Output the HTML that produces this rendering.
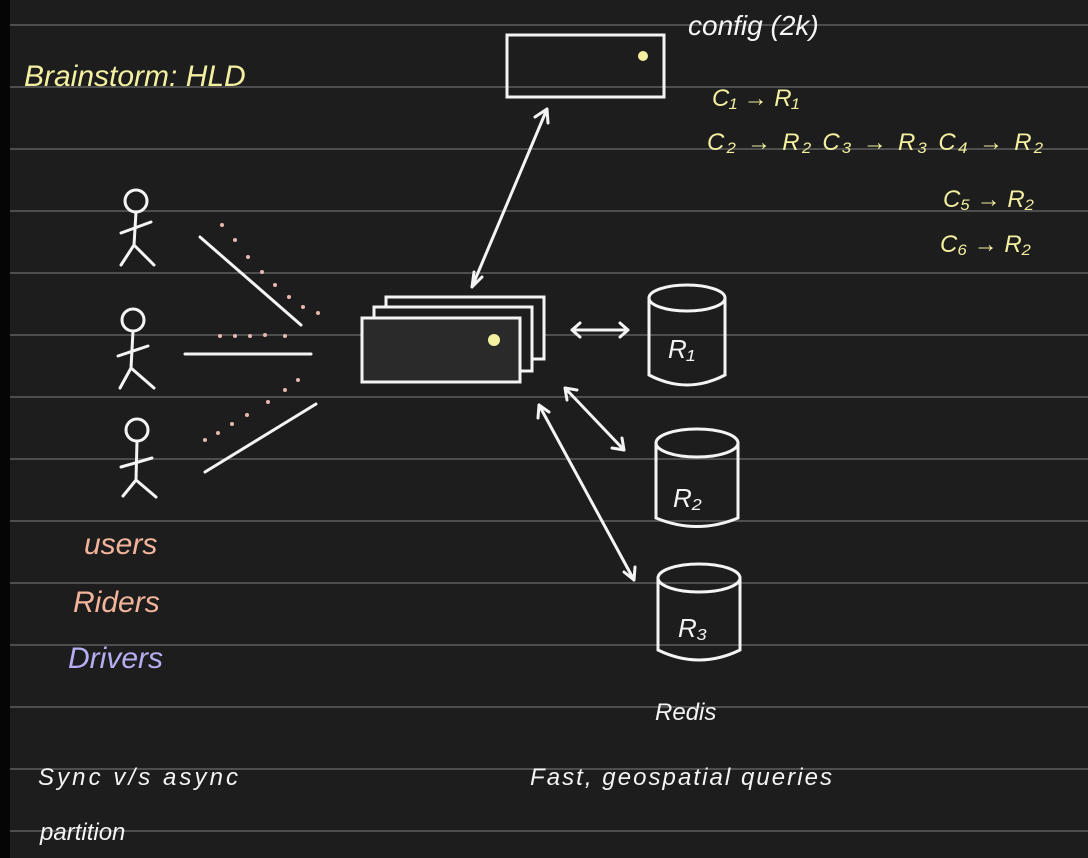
<!DOCTYPE html>
<html><head><meta charset="utf-8"><style>
html,body{margin:0;padding:0;background:#1d1c1c;}
svg{display:block}
text{font-family:"Liberation Sans",sans-serif;font-style:italic}
</style></head><body>
<svg width="1088" height="858" viewBox="0 0 1088 858">
<rect x="0" y="0" width="1088" height="858" fill="#1e1d1d"/>
<rect x="0" y="0" width="10" height="858" fill="#050505"/>
<g id="rules" stroke="#4e4e4e" stroke-width="2"></g>
<g fill="none" stroke="#f4f4f4" stroke-width="3" stroke-linecap="round">
 <g><circle cx="136" cy="201" r="11"/><path d="M136 212 L134 245 M121 233 L151 222 M134 245 L121 265 M134 245 L154 265"/></g>
 <g><circle cx="133" cy="320" r="11"/><path d="M133 331 L131 368 M118 356 L148 346 M131 368 L120 388 M131 368 L154 388"/></g>
 <g><circle cx="137" cy="430" r="11"/><path d="M137 441 L136 480 M121 467 L152 458 M136 480 L123 496 M136 480 L156 497"/></g>
 <path d="M200 237 L301 325 M185 354 L311 354 M205 472 L316 404"/>
 <rect x="386" y="297" width="158" height="62" fill="#1e1d1d"/>
 <rect x="374" y="307" width="158" height="64" fill="#1e1d1d"/>
 <rect x="362" y="318" width="158" height="64" fill="#2a2a2a"/>
 <rect x="507" y="35" width="157" height="62"/>
 <path d="M472 287 L547 109 M472 287 L474 272 M472 287 L482 277 M547 109 L535 117 M547 109 L548 123"/>
 <path d="M572 330 L628 330 M572 330 L580 323 M572 330 L580 337 M628 330 L620 323 M628 330 L620 337"/>
 <path d="M565 388 L624 450 M565 388 L567 400 M565 388 L577 390 M624 450 L622 438 M624 450 L612 448"/>
 <path d="M539 405 L634 580 M539 405 L538 418 M539 405 L549 412 M634 580 L624 572 M634 580 L635 567"/>
 <g><ellipse cx="687" cy="298" rx="38" ry="13"/><path d="M649 298 L649 375 Q687 395 725 375 L725 298"/></g>
 <g><ellipse cx="697" cy="443" rx="41" ry="14"/><path d="M656 443 L656 518 Q697 535 738 518 L738 443"/></g>
 <g><ellipse cx="699" cy="578" rx="41" ry="14"/><path d="M658 578 L658 650 Q699 670 740 650 L740 578"/></g>
</g>
<g fill="#f3f0a0"><circle cx="643" cy="56" r="5"/><circle cx="494" cy="340" r="6"/></g>
<g fill="#e8b8b0">
 <circle cx="222" cy="225" r="2"/><circle cx="235" cy="240" r="2"/><circle cx="248" cy="257" r="2"/><circle cx="262" cy="272" r="2"/><circle cx="275" cy="285" r="2"/><circle cx="289" cy="297" r="2"/><circle cx="303" cy="307" r="2"/><circle cx="318" cy="313" r="2"/>
 <circle cx="220" cy="336" r="2"/><circle cx="235" cy="336" r="2"/><circle cx="250" cy="336" r="2"/><circle cx="265" cy="335" r="2"/><circle cx="285" cy="336" r="2"/>
 <circle cx="205" cy="440" r="2"/><circle cx="218" cy="433" r="2"/><circle cx="232" cy="424" r="2"/><circle cx="247" cy="415" r="2"/><circle cx="268" cy="402" r="2"/><circle cx="285" cy="390" r="2"/><circle cx="298" cy="380" r="2"/>
</g>
<g font-size="30" fill="#f3f0a0">
 <text x="24" y="86">Brainstorm:  HLD</text>
 <text x="688" y="35" fill="#f4f4f4" font-size="28">config (2k)</text>
</g>
<g font-size="24" fill="#f3f0a0">
 <text x="712" y="106">C₁ → R₁</text>
 <text x="707" y="150" textLength="336" lengthAdjust="spacing">C₂ → R₂  C₃ → R₃  C₄ → R₂</text>
 <text x="943" y="207">C₅ → R₂</text>
 <text x="940" y="252">C₆ → R₂</text>
</g>
<g font-size="26" fill="#f4f4f4">
 <text x="668" y="358">R₁</text>
 <text x="673" y="507">R₂</text>
 <text x="678" y="637">R₃</text>
 <text x="655" y="720" font-size="24">Redis</text>
 <text x="530" y="785" font-size="24" textLength="302" lengthAdjust="spacing">Fast, geospatial queries</text>
 <text x="38" y="785" font-size="24" textLength="200" lengthAdjust="spacing">Sync v/s async</text>
 <text x="40" y="840" font-size="24">partition</text>
</g>
<text x="84" y="554" font-size="30" fill="#f3b49c">users</text>
<text x="73" y="612" font-size="30" fill="#f3b49c">Riders</text>
<text x="68" y="668" font-size="30" fill="#b5aef2">Drivers</text>
</svg>
<script>
const ruleYs=[25,87,149,211,273,335,397,459,521,583,645,707,769,831];
const g=document.getElementById('rules');
ruleYs.forEach(y=>{const l=document.createElementNS('http://www.w3.org/2000/svg','line');
l.setAttribute('x1',10);l.setAttribute('x2',1088);l.setAttribute('y1',y);l.setAttribute('y2',y);


g.appendChild(l);});
</script>
</body></html>
